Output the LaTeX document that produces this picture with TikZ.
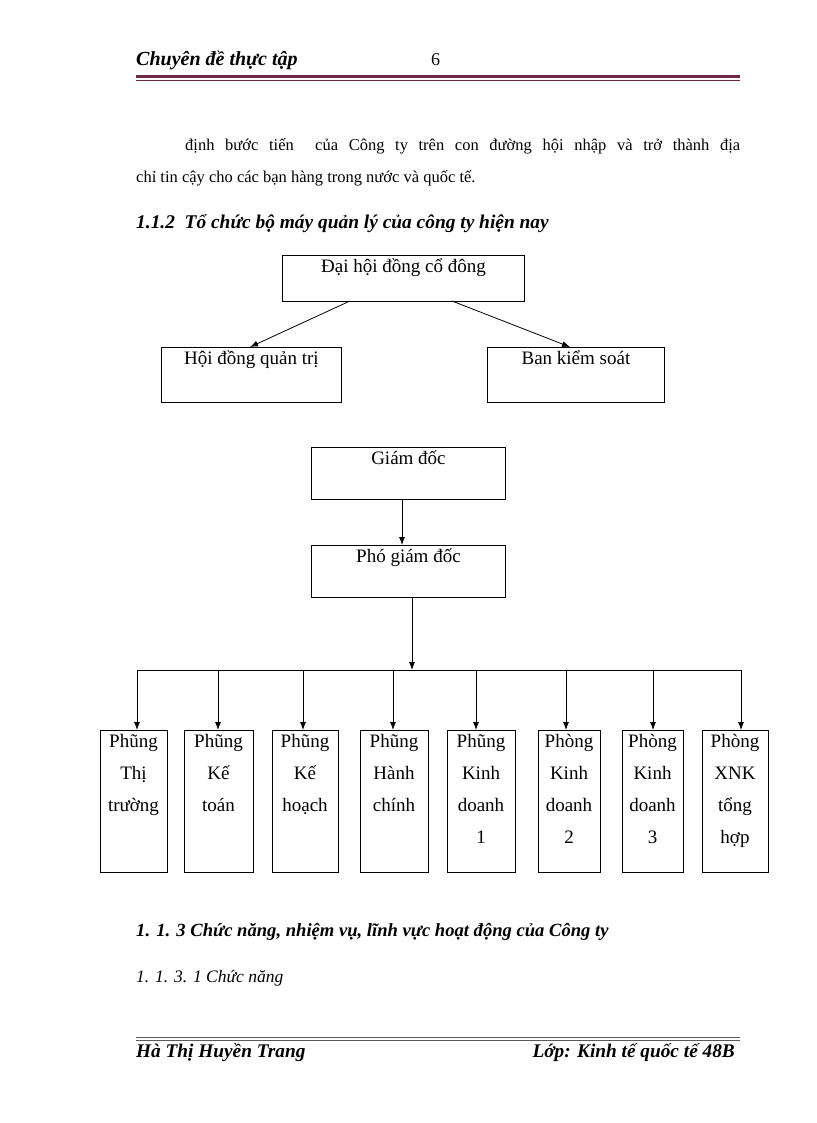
\documentclass[tikz,border=0pt]{standalone}
\usepackage{fontspec}
\setmainfont{Liberation Serif}
\usetikzlibrary{arrows.meta}
\begin{document}
\begin{tikzpicture}[x=1pt,y=-1pt,
  box/.style={draw,line width=0.9pt,anchor=north west,inner sep=0pt},
  txt/.style={font=\fontsize{16.5}{32}\selectfont,inner sep=0pt},
  btx/.style={font=\fontsize{19}{32}\selectfont,inner sep=0pt},
  arr/.style={-{Latex[length=8pt,width=6pt]},line width=0.8pt}]
\useasboundingbox (0,0) rectangle (816,1123);
% header
\node[txt,anchor=base west,font=\fontsize{20}{22}\selectfont\bfseries\itshape] (h1) at (136,66) {Chuyên đề thực tập};
\node[txt,anchor=base west,font=\fontsize{18}{20}\selectfont] (h2) at (431,66) {6};
\draw[line width=2.4pt,color={rgb,255:red,110;green,40;blue,70}] (136,76.5) -- (740,76.5);
\draw[line width=0.8pt,color={rgb,255:red,110;green,40;blue,70}] (136,80) -- (740,80);
% body
\node[txt,anchor=base west] (p1) at (185,151) {\makebox[555pt][s]{định bước tiến \ của Công ty trên con đường hội nhập và trở thành địa}};
\node[txt,anchor=base west] (p2) at (136,183) {chỉ tin cậy cho các bạn hàng trong nước và quốc tế.};
\node[txt,anchor=base west,font=\fontsize{19.4}{22}\selectfont\bfseries\itshape] (s1) at (136,229) {1.1.2\ \ Tổ chức bộ máy quản lý của công ty hiện nay};
% top boxes
\node[box,minimum width=242pt,minimum height=46pt] (dh) at (282,255) {};
\node[btx,anchor=north] (dht) at (dh.north|-0,259) {Đại hội đồng cổ đông};
\node[box,minimum width=180pt,minimum height=55pt] (hd) at (161,347) {};
\node[btx,anchor=north] (hdt) at (hd.north|-0,351) {Hội đồng quản trị};
\node[box,minimum width=177pt,minimum height=55pt] (bk) at (487,347) {};
\node[btx,anchor=north] (bkt) at (bk.north|-0,351) {Ban kiểm soát};
\draw[arr] (350,301) -- (250,347);
\draw[arr] (452,301) -- (570,347);
\node[box,minimum width=194pt,minimum height=52pt] (gd) at (311,447) {};
\node[btx,anchor=north] (gdt) at (gd.north|-0,451) {Giám đốc};
\node[box,minimum width=194pt,minimum height=52pt] (pg) at (311,545) {};
\node[btx,anchor=north] (pgt) at (pg.north|-0,549) {Phó giám đốc};
\draw[arr] (402,499) -- (402,545);
\coordinate (bus) at (412,670);
\draw[arr] (412,597) -- (bus);
\draw[line width=0.8pt] (137,670) -- (741,670);
% bottom boxes
\foreach \n/\xa/\xb/\ax/\t in {1/100/167/137/{Phũng\\Thị\\trường},2/184/253/218/{Phũng\\Kế\\toán},3/272/338/303/{Phũng\\Kế\\hoạch},4/360/428/393/{Phũng\\Hành\\chính},5/447/515/476/{Phũng\\Kinh\\doanh\\1},6/538/600/566/{Phòng\\Kinh\\doanh\\2},7/622/683/653/{Phòng\\Kinh\\doanh\\3},8/702/768/741/{Phòng\\XNK\\tổng\\hợp}}{
  \node[box,minimum width={\xb-\xa},minimum height=142pt] (b\n) at (\xa,730) {};
  \node[btx,anchor=north,align=center] (bt\n) at ({(\xa+\xb)/2},734) {\t};
  \draw[arr] (\ax,670) -- (\ax,730);
}
\node[txt,anchor=base west,font=\fontsize{18.6}{20}\selectfont\bfseries\itshape] (s2) at (136,936) {1. 1. 3 Chức năng, nhiệm vụ, lĩnh vực hoạt động của Công ty};
\node[txt,anchor=base west,font=\fontsize{17.5}{20}\selectfont\itshape] (s3) at (136,982) {1. 1. 3. 1 Chức năng};
% footer
\draw[line width=1pt,gray!70!black] (136,1037) -- (740,1037);
\draw[line width=1pt,gray!70!black] (136,1040) -- (740,1040);
\node[txt,anchor=base west,font=\fontsize{19.3}{22}\selectfont\bfseries\itshape] (f1) at (136,1057) {Hà Thị Huyền Trang};
\node[txt,anchor=base east,font=\fontsize{19.3}{22}\selectfont\bfseries\itshape] (f2) at (735,1057) {Lớp: Kinh tế quốc tế 48B};
\end{tikzpicture}
\end{document}
